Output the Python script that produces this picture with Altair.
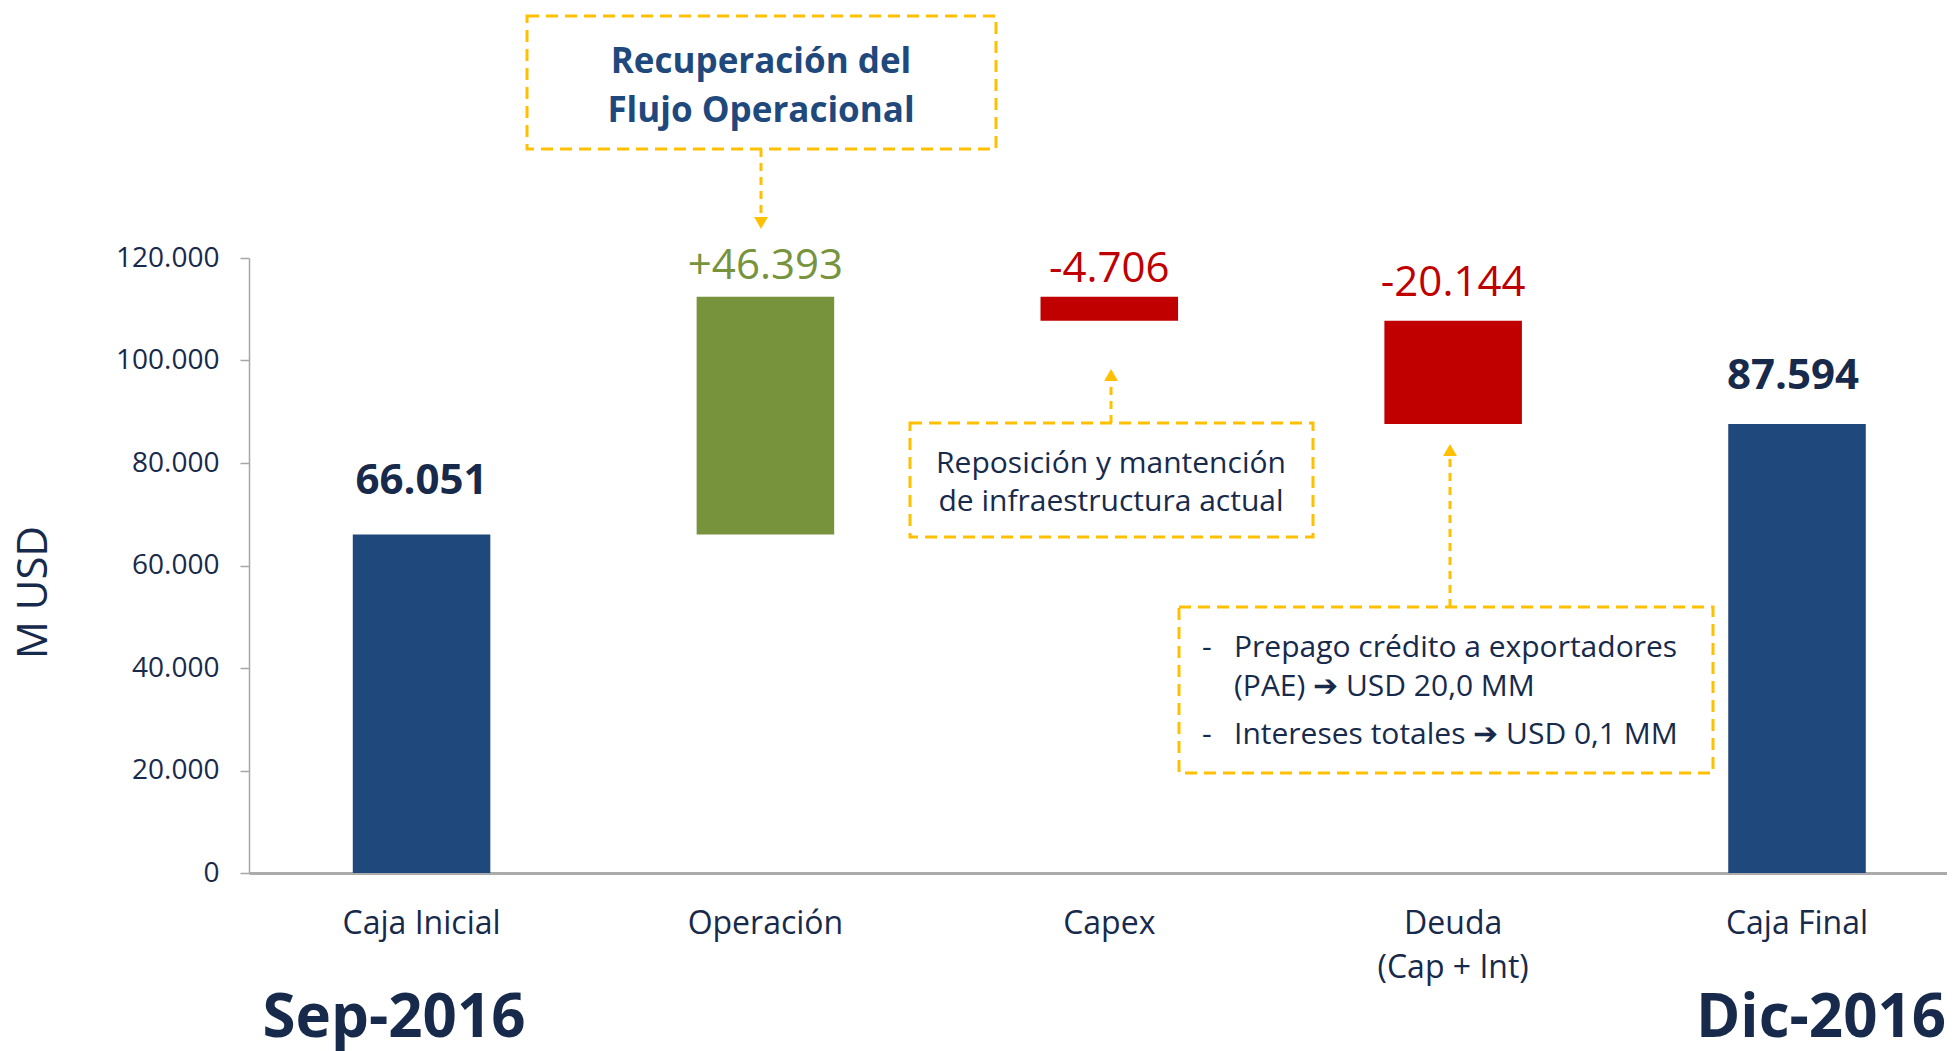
import altair as alt
import pandas as pd

# ---------------- data ----------------
categories = ["Caja Inicial", "Operación", "Capex", "Deuda (Cap + Int)", "Caja Final"]
values = [66051, 46393, -4706, -20144, 87594]
kinds = ["total", "delta", "delta", "delta", "total"]
value_labels = ["66.051", "+46.393", "-4.706", "-20.144", "87.594"]
y_ticks = [0, 20000, 40000, 60000, 80000, 100000, 120000]
y_tick_labels = ["0", "20.000", "40.000", "60.000", "80.000", "100.000", "120.000"]
period_labels = ["Sep-2016", "Dic-2016"]
note_operacion = ["Recuperación del", "Flujo Operacional"]
note_capex = ["Reposición y mantención", "de infraestructura actual"]
note_deuda = ["Prepago crédito a exportadores", "(PAE) ➔ USD 20,0 MM", "Intereses totales ➔ USD 0,1 MM"]

# ---------------- styles ----------------
NAVY = "#1F497D"
GREEN = "#77933C"
RED = "#C00000"
TEXT = "#172A4B"
GOLD = "#FFC000"
GREY = "#A6A6A6"
FONT = "Open Sans"

rows = []
running = 0
for c, v, k, lab in zip(categories, values, kinds, value_labels):
    if k == "total":
        start, end = 0, v
    else:
        start, end = running, running + v
    running = end
    color = NAVY if k == "total" else (GREEN if v > 0 else RED)
    rows.append(dict(category=c, start=start, end=end, top=max(start, end),
                     color=color, label=lab, kind=k))
df = pd.DataFrame(rows)

label_expr_y = "".join(
    f"datum.value == {v} ? '{l}' : " for v, l in zip(y_ticks, y_tick_labels)
) + "''"

x_scale = alt.Scale(domain=categories, paddingInner=0.6, paddingOuter=0.269, align=0.561)
x_axis = alt.Axis(title="", labelAngle=0, ticks=False, domainColor="#ABABAB", domainWidth=3,
                  labelPadding=35, labelFontSize=32, labelLineHeight=44, labelColor=TEXT,
                  labelFont=FONT, labelExpr="split(replace(datum.label, ' (', '|('), '|')")
y_scale = alt.Scale(domain=[0, 120000], nice=False, zero=True)
y_axis = alt.Axis(values=y_ticks, labelExpr=label_expr_y, title="M USD", grid=False,
                  domainColor=GREY, domainWidth=1.5, tickColor=GREY, tickWidth=1.5, tickSize=9,
                  labelPadding=21, labelFontSize=28, labelFont=FONT, labelColor=TEXT,
                  titleFont=FONT, titleFontSize=42, titleFontWeight="normal", titleColor=TEXT,
                  titleX=-216, titleY=334, titleAngle=270, titleAlign="center",
                  titleBaseline="middle")

X = alt.X("category:N", sort=categories, scale=x_scale, axis=x_axis)

bars = alt.Chart(df).mark_bar().encode(
    x=X,
    y=alt.Y("start:Q", scale=y_scale, axis=y_axis),
    y2="end:Q",
    color=alt.Color("color:N", scale=None),
)

layers = [bars]

label_dy = [-40, -18, -15, -25, -35]
label_dx = [0, 0, 0, 0, -4]
for c, k, dy, dx in zip(categories, kinds, label_dy, label_dx):
    bold = k == "total"
    row_color = df.loc[df.category == c, "color"].iloc[0]
    layers.append(
        alt.Chart(df).transform_filter(alt.datum.category == c).mark_text(
            dy=dy, dx=dx, fontSize=42, font=FONT, fontWeight="bold" if bold else "normal",
            color=TEXT if bold else row_color, baseline="alphabetic", align="center"
        ).encode(x=X, y=alt.Y("top:Q", scale=y_scale, axis=y_axis), text="label:N")
    )

ann = alt.Chart(pd.DataFrame({"k": [0]}))


def box(x1, y1, x2, y2):
    return ann.mark_rect(fillOpacity=0, stroke=GOLD, strokeWidth=3, strokeDash=[12, 7]).encode(
        x=alt.value(x1), x2=alt.value(x2), y=alt.value(y1), y2=alt.value(y2))


def vline(x, y1, y2):
    return ann.mark_rule(stroke=GOLD, strokeWidth=3, strokeDash=[8, 6]).encode(
        x=alt.value(x), y=alt.value(y1), y2=alt.value(y2))


def head(x, y, shape):
    return ann.mark_point(shape=shape, filled=True, size=190, color=GOLD, opacity=1).encode(
        x=alt.value(x), y=alt.value(y))


def txt(s, x, y, size, weight="normal", color=TEXT, align="center"):
    return ann.mark_text(text=s, fontSize=size, fontWeight=weight, font=FONT, color=color,
                         align=align, baseline="alphabetic").encode(x=alt.value(x), y=alt.value(y))


# Annotation: Operación
layers += [
    box(278, -242, 747, -109),
    txt(note_operacion[0], 512, -185, 35, "bold", NAVY),
    txt(note_operacion[1], 512, -136, 35, "bold", NAVY),
    vline(512, -109, -42),
    head(512, -35, "triangle-down"),
]
# Annotation: Capex
layers += [
    box(661, 165, 1064, 279),
    txt(note_capex[0], 862, 215, 30),
    txt(note_capex[1], 862, 253, 30),
    vline(862, 165, 124),
    head(862, 117, "triangle-up"),
]
# Annotation: Deuda
layers += [
    box(930, 349, 1464, 515),
    txt("-", 953, 399, 30, align="left"),
    txt("-", 953, 486, 30, align="left"),
    txt(note_deuda[0], 985, 399, 30, align="left"),
    txt(note_deuda[1], 985, 438, 30, align="left"),
    txt(note_deuda[2], 985, 486, 30, align="left"),
    vline(1201, 349, 199),
    head(1201, 192, "triangle-up"),
]
# Period labels
layers += [
    txt(period_labels[0], 145, 779, 60, "bold"),
    txt(period_labels[1], 1572, 779, 60, "bold"),
]

chart = alt.layer(*layers).properties(
    width=1698, height=615,
    padding={"left": 241, "top": 250, "right": 0, "bottom": 178},
    autosize=alt.AutoSizeParams(type="none"),
    background="white",
).configure_view(strokeWidth=0)

chart.save("out.html", embed_options={"renderer": "svg", "actions": False})
